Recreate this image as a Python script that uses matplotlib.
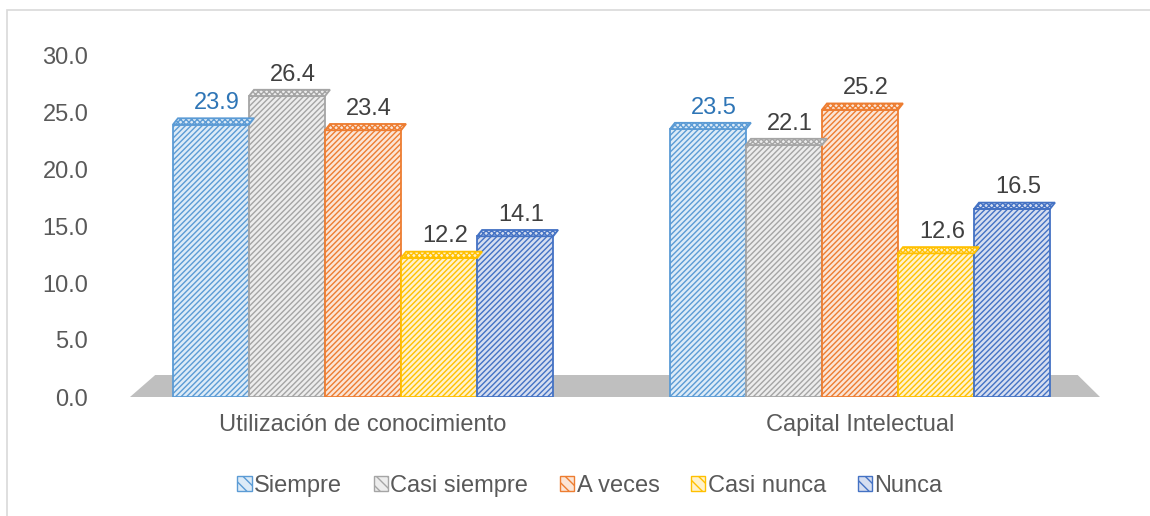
import matplotlib
matplotlib.use("Agg")
import matplotlib.pyplot as plt
from matplotlib.patches import Polygon, Rectangle, Patch
import numpy as np

plt.rcParams['font.family'] = ['Liberation Sans', 'DejaVu Sans']
plt.rcParams['hatch.linewidth'] = 1.0

categories = ["Utilización de conocimiento", "Capital Intelectual"]
series = ["Siempre", "Casi siempre", "A veces", "Casi nunca", "Nunca"]
siempre = [23.9, 23.5]
casi_siempre = [26.4, 22.1]
a_veces = [23.4, 25.2]
casi_nunca = [12.2, 12.6]
nunca = [14.1, 16.5]
values = [siempre, casi_siempre, a_veces, casi_nunca, nunca]
yticks = [0, 5, 10, 15, 20, 25, 30]

edge_colors = ["#5B9BD5", "#A5A5A5", "#ED7D31", "#FFC000", "#4472C4"]
fill_colors = ["#DDEBF7", "#EDEDED", "#FBE5D6", "#FFF2CC", "#D6DEF0"]
label_colors = ["#2E75B6", "#404040", "#404040", "#404040", "#404040"]

FS = 17
W, H = 1150, 516
fig = plt.figure(figsize=(W / 100, H / 100), dpi=100)
# outer border
fig.patches.append(Rectangle((7 / W, -0.01), 1.0, 1 - 10 / H + 0.01, transform=fig.transFigure,
                             fill=False, edgecolor="#D9D9D9", linewidth=1.2))

ax = fig.add_axes([130 / W, 1 - 397 / H, 970 / W, (397 - 55) / H])
x = np.arange(len(categories))
bw = 0.153
n = len(series)
ax.set_xlim(-0.469, 1.483)
ax.set_ylim(0, 30)

# floor
floor = Polygon([(0, 0), (1, 0), (0.977, 22 / 342), (0.026, 22 / 342)], closed=True,
                transform=ax.transAxes, facecolor="#BFBFBF", edgecolor="none", zorder=0)
ax.add_patch(floor)

dx = 0.01
dz = 0.55
for i, (s, vals) in enumerate(zip(series, values)):
    pos = x + (i - (n - 1) / 2) * bw
    ax.bar(pos, vals, width=bw, facecolor=fill_colors[i], edgecolor=edge_colors[i],
           hatch="//////", linewidth=1.3, zorder=2)
    for p, v in zip(pos, vals):
        x0, x1 = p - bw / 2, p + bw / 2
        top = Polygon([(x0, v), (x1, v), (x1 + dx, v + dz), (x0 + dx, v + dz)], closed=True,
                      facecolor=fill_colors[i], edgecolor=edge_colors[i], hatch="xxxxxx",
                      linewidth=1.3, zorder=3)
        ax.add_patch(top)
        ax.annotate(f"{v:.1f}", (p + 0.012, v + dz), xytext=(0, 3), textcoords="offset points",
                    ha="center", va="bottom", fontsize=FS, color=label_colors[i],
                    annotation_clip=False)

ax.set_yticks(yticks)
ax.set_yticklabels([f"{t:.1f}" for t in yticks])
ax.set_xticks(x)
ax.set_xticklabels(categories)
ax.tick_params(axis="y", length=0, pad=30, labelsize=FS, labelcolor="#595959")
ax.tick_params(axis="x", length=0, pad=12, labelsize=FS, labelcolor="#595959")
for sp in ax.spines.values():
    sp.set_visible(False)
ax.set_facecolor("none")

handles = [Patch(facecolor=fill_colors[i], edgecolor=edge_colors[i], hatch="\\\\\\", label=s)
           for i, s in enumerate(series)]
fig.legend(handles=handles, loc="center", bbox_to_anchor=(590 / W, 1 - 486 / H), ncol=5,
           frameon=False, fontsize=FS, handlelength=0.6, handleheight=0.6,
           handletextpad=0.1, columnspacing=1.35, labelcolor="#595959")

fig.savefig("out.png", dpi=100)
